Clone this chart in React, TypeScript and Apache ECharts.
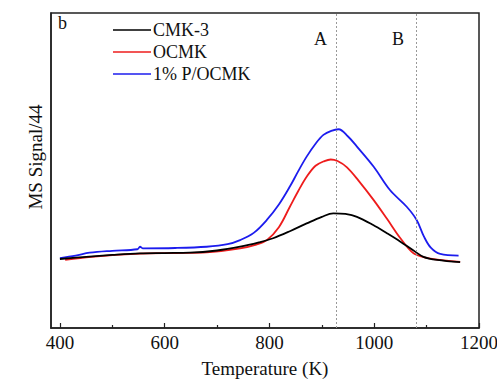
import React, { useEffect, useRef } from "react";
import * as echarts from "echarts";

const cmk3: [number, number][] = [
  [400, 21.9], [450, 22.6], [500, 23.2], [553, 23.7], [600, 23.8], [648, 23.9], [700, 24.6], [744, 25.8],
  [780, 27.2], [807, 28.5], [840, 30.8], [871, 33.2], [900, 35.3], [922, 36.4], [945, 36.2], [967, 35.3],
  [998, 32.7], [1025, 30.0], [1050, 27.4], [1075, 24.6], [1094, 22.6], [1120, 21.6], [1164, 20.9],
];
const ocmk: [number, number][] = [
  [410, 21.6], [460, 22.6], [553, 23.6], [620, 23.8], [680, 24.0], [744, 25.3], [775, 26.5], [795, 27.9],
  [818, 32.0], [839, 38.5], [855, 43.5], [871, 48.0], [888, 51.5], [905, 53.0], [917, 53.5], [930, 53.0],
  [948, 51.0], [970, 46.8], [999, 40.6], [1025, 34.5], [1050, 28.5], [1075, 23.7], [1100, 22.3], [1126, 21.6],
  [1164, 21.0],
];
const pOcmk: [number, number][] = [
  [400, 22.2], [430, 23.0], [457, 23.9], [500, 24.5], [548, 25.0], [553, 25.8], [558, 25.3], [620, 25.4],
  [680, 25.8], [720, 26.6], [744, 27.9], [770, 30.2], [795, 34.3], [818, 39.2], [839, 44.9], [855, 49.8],
  [871, 54.4], [888, 58.5], [903, 61.3], [918, 62.6], [932, 63.1], [950, 60.8], [967, 57.6], [999, 51.2],
  [1030, 43.8], [1062, 38.5], [1081, 34.3], [1095, 29.0], [1108, 25.5], [1126, 23.5], [1161, 23.0],
];
const seriesNames = ["CMK-3", "OCMK", "1% P/OCMK"];
const seriesColors = ["#000000", "#ee1c1c", "#1c1cee"];
const markerTemps = [927, 1081];
const markerLabels = ["A", "B"];
const xTickLabels = [400, 600, 800, 1000, 1200];
const xMinorTicks = [500, 700, 900, 1100];
const yTitle = "MS Signal/44";
const xTitle = "Temperature (K)";
const panelLabel = "b";

const FONT = "'Liberation Serif', 'Times New Roman', serif";

export default function App() {
  const ref = useRef<HTMLDivElement>(null);
  useEffect(() => {
    if (!ref.current) return;
    const chart = echarts.init(ref.current, undefined, { renderer: "svg" });
    const datasets = [cmk3, ocmk, pOcmk];
    const series: any[] = datasets.map((d, i) => ({
      name: seriesNames[i],
      type: "line",
      data: d,
      smooth: 0.35,
      symbol: "none",
      lineStyle: { color: seriesColors[i], width: 1.8 },
      itemStyle: { color: seriesColors[i] },
      z: 3 - i,
    }));
    series[0].markLine = {
      silent: true,
      symbol: "none",
      label: { show: false },
      lineStyle: { color: "#999", type: [2, 2], width: 1 },
      data: markerTemps.map((t) => ({ xAxis: t })),
    };
    chart.setOption({
      animation: false,
      textStyle: { fontFamily: FONT },
      grid: {
        left: 51, right: 18, top: 13, bottom: 53,
        outerBoundsMode: "none",
        containLabel: false,
        show: true, borderColor: "#222", borderWidth: 1.5,
      },
      legend: {
        data: seriesNames.map((n) => ({ name: n, icon: "rect" })),
        orient: "vertical",
        left: 113,
        top: 21,
        padding: 0,
        itemWidth: 38,
        itemHeight: 1.6,
        itemGap: 4,
        textStyle: { fontFamily: FONT, fontSize: 18, color: "#111", padding: [0, 0, 0, -3], lineHeight: 18 },
      },
      xAxis: [
        {
          type: "value",
          min: 383,
          max: 1200,
          name: xTitle,
          nameLocation: "middle",
          nameGap: 31,
          nameTextStyle: { fontFamily: FONT, fontSize: 19, color: "#111" },
          axisLine: { show: true, lineStyle: { color: "#222", width: 1.5 } },
          axisTick: { show: true, inside: true, length: 5, customValues: xTickLabels, lineStyle: { color: "#222", width: 1.2 } },
          axisLabel: {
            customValues: xTickLabels,
            formatter: (v: number) => String(v),
            fontFamily: FONT,
            fontSize: 19,
            color: "#111",
            margin: 5,
          },
          splitLine: { show: false },
        },
        {
          type: "value",
          min: 383,
          max: 1200,
          position: "bottom",
          axisLine: { show: false },
          axisTick: { show: true, inside: true, length: 3, customValues: xMinorTicks, lineStyle: { color: "#222", width: 1.2 } },
          axisLabel: { show: false, customValues: xMinorTicks },
          splitLine: { show: false },
        },
      ],
      yAxis: {
        type: "value",
        min: 0,
        max: 100,
        axisLine: { show: true, lineStyle: { color: "#222", width: 1.5 } },
        axisTick: { show: false },
        axisLabel: { show: false },
        splitLine: { show: false },
      },
      graphic: [
        {
          type: "text",
          x: 35,
          y: 157,
          rotation: Math.PI / 2,
          style: { text: yTitle, font: `19px ${FONT}`, fill: "#111", align: "center", verticalAlign: "middle" },
        },
        { type: "text", left: 58, top: 14, style: { text: panelLabel, font: `18px ${FONT}`, fill: "#111" } },
        { type: "text", left: 314, top: 30, style: { text: markerLabels[0], font: `18px ${FONT}`, fill: "#111" } },
        { type: "text", left: 392, top: 30, style: { text: markerLabels[1], font: `18px ${FONT}`, fill: "#111" } },
      ],
      series,
    });
    return () => chart.dispose();
  }, []);
  return <div ref={ref} style={{ width: 497, height: 381, position: "absolute", left: 0, top: 0 }} />;
}
